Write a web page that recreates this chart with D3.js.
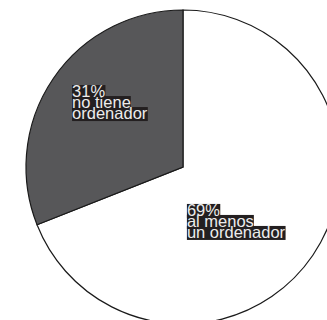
<!DOCTYPE html>
<html>
<head>
<meta charset="utf-8">
<script src="https://cdn.jsdelivr.net/npm/d3@7"></script>
<style>
  body { margin: 0; background: #fff; }
  text { font-family: "Liberation Sans", Arial, sans-serif; }
</style>
</head>
<body>
<div id="chartDiv"></div>
<script>
// slices, in drawing order (clockwise from 12 o'clock)
var categories = ["al menos un ordenador", "no tiene ordenador"];
var values = [69, 31];
var labelLines = [["69%", "al menos", "un ordenador"], ["31%", "no tiene", "ordenador"]];
var colors = ["#ffffff", "#575759"];

var width = 327, height = 320;
var cx = 183, cy = 167, radius = 157;

var svg = d3.select("#chartDiv")
    .append("svg")
    .attr("width", width)
    .attr("height", height)
    .append("g")
    .attr("transform", "translate(" + cx + "," + cy + ")");

var pie = d3.pie().sort(null).value(function(d) { return d; });
var arc = d3.arc().innerRadius(0).outerRadius(radius);
var labelArc = d3.arc().innerRadius(radius * 0.6).outerRadius(radius * 0.6);

var arcs = pie(values);

svg.selectAll("path.slice")
    .data(arcs)
    .enter().append("path")
    .attr("class", "slice")
    .attr("d", arc)
    .attr("fill", function(d, i) { return colors[i]; })
    .attr("stroke", "#1a1a1a")
    .attr("stroke-width", 1.2);

// label offsets from the slice centroid
var labelShift = [[-74, -4], [-33, -17]];
var lineGap = 11;

arcs.forEach(function(d, i) {
    var c = labelArc.centroid(d);
    var x0 = c[0] + labelShift[i][0];
    var y0 = c[1] + labelShift[i][1];
    var g = svg.append("g");
    var bg = g.append("g");
    labelLines[i].forEach(function(line, k) {
        var t = g.append("text")
            .attr("x", x0)
            .attr("y", y0 + k * lineGap)
            .attr("font-size", 16.5)
            .attr("fill", "#ececec")
            .text(line);
        var b = t.node().getBBox();
        bg.append("rect")
            .attr("x", b.x)
            .attr("y", y0 + k * lineGap - 12)
            .attr("width", b.width)
            .attr("height", 14)
            .attr("fill", "#231f20");
    });
});
</script>
</body>
</html>
